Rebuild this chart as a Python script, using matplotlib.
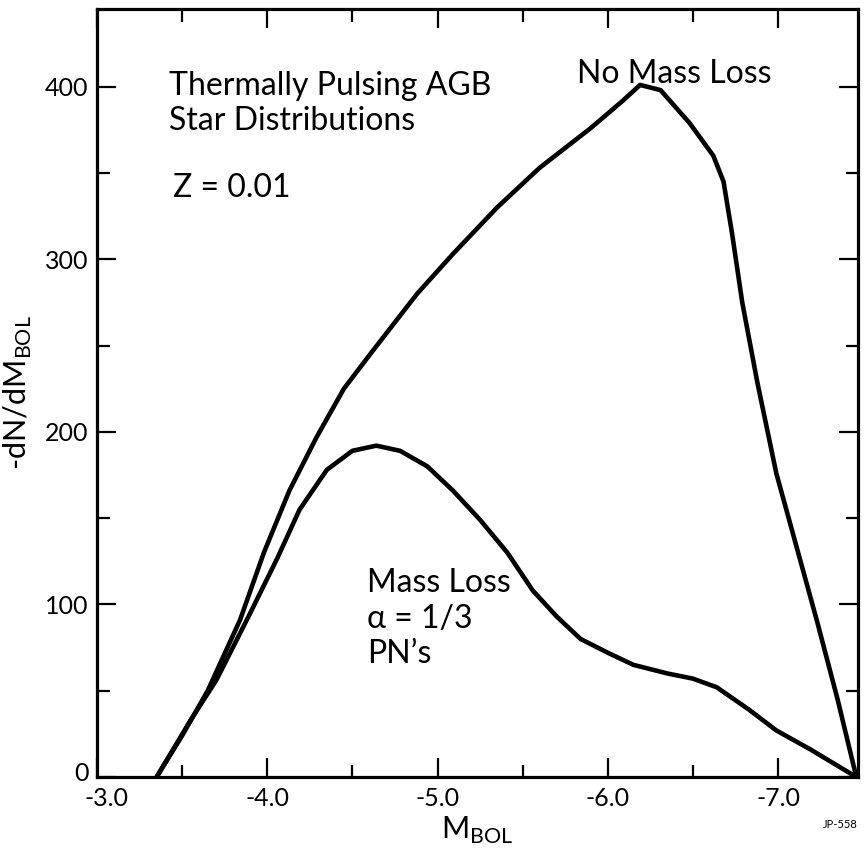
import matplotlib
matplotlib.use("Agg")
import matplotlib.pyplot as plt
import matplotlib.transforms as mtransforms
from matplotlib.ticker import MultipleLocator

plt.rcParams["font.family"] = ["Lato", "DejaVu Sans"]

# No mass loss curve
m_no_loss = [-3.35, -3.50, -3.65, -3.84, -3.98, -4.13, -4.29, -4.45, -4.62,
             -4.88, -5.09, -5.35, -5.60, -5.90, -6.09, -6.19, -6.31, -6.48,
             -6.62, -6.68, -6.73, -6.79, -6.88, -6.99, -7.11, -7.23, -7.35,
             -7.46]
n_no_loss = [0, 24, 50, 91, 130, 166, 197, 225, 247,
             280, 303, 330, 353, 376, 392, 401, 398, 379,
             360, 345, 315, 275, 228, 176, 133, 90, 45,
             0]

# Mass loss (alpha = 1/3, PN's) curve
m_loss = [-3.35, -3.55, -3.70, -3.90, -4.06, -4.19, -4.35, -4.50, -4.64,
          -4.78, -4.94, -5.09, -5.25, -5.41, -5.56, -5.70, -5.84, -6.00,
          -6.15, -6.35, -6.50, -6.64, -6.83, -6.99, -7.19, -7.46]
n_loss = [0, 33, 56, 95, 127, 155, 178, 189, 192,
          189, 180, 166, 149, 130, 108, 93, 80, 72,
          65, 60, 57, 52, 39, 27, 16, 0]

x_ticks = [-3.0, -4.0, -5.0, -6.0, -7.0]
x_tick_labels = ["-3.0", "-4.0", "-5.0", "-6.0", "-7.0"]
y_ticks = [0, 100, 200, 300, 400]

fig = plt.figure(figsize=(8.68, 8.49), dpi=100)
ax = fig.add_axes([0.1118, 0.0848, 0.8767, 0.9046])

ax.plot(m_no_loss, n_no_loss, color="black", lw=3.3, solid_joinstyle="round")
ax.plot(m_loss, n_loss, color="black", lw=3.3, solid_joinstyle="round")

ax.set_xlim(-3.0, -7.47)
ax.set_ylim(0, 445)

ax.set_xticks(x_ticks)
ax.set_xticklabels(x_tick_labels)
ax.set_yticks(y_ticks)
ax.xaxis.set_minor_locator(MultipleLocator(0.5))
ax.yaxis.set_minor_locator(MultipleLocator(50))

ax.tick_params(which="both", direction="in", top=True, right=True,
               width=1.6, labelsize=18)
ax.tick_params(axis="x", pad=7.5)
ax.tick_params(axis="y", pad=6)
ax.tick_params(which="major", length=14)
ax.tick_params(which="minor", length=9)

# nudge the corner labels apart like in the original drawing
lab_x0 = ax.get_xticklabels()[0]
lab_x0.set_transform(lab_x0.get_transform() +
                     mtransforms.ScaledTranslation(7 / 72, 0, fig.dpi_scale_trans))
lab_y0 = ax.get_yticklabels()[0]
lab_y0.set_transform(lab_y0.get_transform() +
                     mtransforms.ScaledTranslation(0, 4 / 72, fig.dpi_scale_trans))

for s in ax.spines.values():
    s.set_linewidth(2.3)

ax.set_xlabel(r"M$_{\mathregular{BOL}}$", fontsize=22, labelpad=3)
ax.set_ylabel(r"-dN/dM$_{\mathregular{BOL}}$", fontsize=22, labelpad=8)

# annotations (baselines placed in axes fractions)
txt = dict(transform=ax.transAxes, fontsize=23, va="baseline", ha="left")
ax.text(0.0946, 0.888, "Thermally Pulsing AGB", **txt)
ax.text(0.0946, 0.8424, "Star Distributions", **txt)
ax.text(0.0999, 0.755, "Z = 0.01", **txt)
ax.text(0.6307, 0.9036, "No Mass Loss", **txt)
ax.text(0.3548, 0.2409, "Mass Loss", **txt)
ax.text(0.3548, 0.194, "\u03b1 = 1/3", **txt)
ax.text(0.3548, 0.1484, "PN\u2019s", **txt)

fig.text(0.9885, 0.022, "JP-558", fontsize=8, ha="right", va="bottom")

fig.savefig("out.png", dpi=100)
